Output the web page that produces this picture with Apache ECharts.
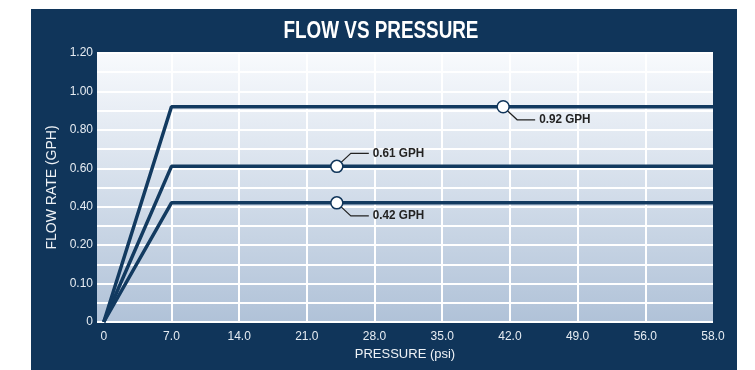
<!DOCTYPE html>
<html><head><meta charset="utf-8">
<script src="https://cdn.jsdelivr.net/npm/echarts@6/dist/echarts.min.js"></script>
<style>html,body{margin:0;padding:0;background:#fff}#c{width:755px;height:370px}</style>
</head><body><div id="c"></div>
<script>
// Tick labels (axes are evenly spaced between labelled ticks)
const xTicks = [0, 7, 14, 21, 28, 35, 42, 49, 56, 58];
const xTickLabels = ['0', '7.0', '14.0', '21.0', '28.0', '35.0', '42.0', '49.0', '56.0', '58.0'];
const yTicks = [0, 0.1, 0.2, 0.4, 0.6, 0.8, 1.0, 1.2];
const yTickLabels = ['0', '0.10', '0.20', '0.40', '0.60', '0.80', '1.00', '1.20'];

// Series: flow rates, reached at 7 psi, held to 58 psi
const seriesNames = ['0.92 GPH', '0.61 GPH', '0.42 GPH'];
const flows = [0.92, 0.61, 0.42];
const pressures = [0, 7, 58];
// Callouts
const calloutPressure = [41.3, 24.1, 24.1];
const calloutDir = [1, -1, 1];

function toIndex(v, ticks) {
  for (let i = 0; i < ticks.length - 1; i++) {
    if (v <= ticks[i + 1]) return i + (v - ticks[i]) / (ticks[i + 1] - ticks[i]);
  }
  return ticks.length - 1;
}
const px = v => toIndex(v, xTicks);
const py = v => toIndex(v, yTicks);

const FONT = "'Liberation Sans Narrow', 'Liberation Sans', sans-serif";
const NAVY = '#10355a';

const lineSeries = flows.map((f, i) => ({
  type: 'line', name: seriesNames[i], symbol: 'none', z: 3,
  lineStyle: {color: '#123a60', width: 3.5},
  data: pressures.map(p => [px(p), py(p === 0 ? 0 : f)])
}));

const callout = {
  type: 'custom', z: 10, silent: true,
  data: flows.map((f, i) => [px(calloutPressure[i]), py(f), calloutDir[i], i]),
  renderItem(params, api) {
    const p = api.coord([api.value(0), api.value(1)]);
    const d = api.value(2);
    const label = seriesNames[api.value(3)];
    return {type: 'group', children: [
      {type: 'polyline', shape: {points: [[p[0], p[1]], [p[0] + 14, p[1] + d * 13], [p[0] + 32, p[1] + d * 13]]},
        style: {stroke: '#222', lineWidth: 1.2, fill: null}},
      {type: 'circle', shape: {cx: p[0], cy: p[1], r: 6},
        style: {fill: '#fff', stroke: NAVY, lineWidth: 1.5}},
      {type: 'text', x: p[0] + 36, y: p[1] + d * 13, scaleX: 0.9,
        style: {text: label, fill: '#222', font: "bold 13px " + FONT, verticalAlign: 'middle', align: 'left'}}
    ]};
  }
};

const chart = echarts.init(document.getElementById('c'));
chart.setOption({
  backgroundColor: '#fff',
  animation: false,
  graphic: [
    {type: 'rect', z: -10, shape: {x: 31, y: 9, width: 706, height: 361}, style: {fill: NAVY}},
    {type: 'text', z: 5, x: 381, y: 32, scaleX: 0.82,
      style: {text: 'FLOW VS PRESSURE', fill: '#fff', font: "bold 23px " + FONT, align: 'center', verticalAlign: 'middle'}}
  ],
  grid: {left: 97, right: 42, top: 53, bottom: 48, show: true, borderWidth: 0,
    backgroundColor: {type: 'linear', x: 0, y: 0, x2: 0, y2: 1,
      colorStops: [{offset: 0, color: '#f8fafd'}, {offset: 1, color: '#b0c2d8'}]}},
  xAxis: {type: 'value', min: -0.1, max: 9,
    name: 'PRESSURE (psi)', nameLocation: 'middle', nameGap: 26,
    nameTextStyle: {color: '#eef2f6', fontSize: 13, fontFamily: FONT},
    axisLine: {show: false},
    axisTick: {show: false, customValues: [1, 2, 3, 4, 5, 6, 7, 8]},
    axisLabel: {customValues: xTicks.map((t, i) => i), formatter: v => xTickLabels[Math.round(v)],
      color: '#e6ecf2', fontSize: 12, fontFamily: FONT, margin: 9},
    splitLine: {show: true, lineStyle: {color: '#fff', width: 2}}},
  yAxis: {type: 'value', min: 0, max: 7, interval: 1,
    name: 'FLOW RATE (GPH)', nameLocation: 'middle', nameGap: 34, nameRotate: 90,
    nameTextStyle: {color: '#eef2f6', fontSize: 14, fontFamily: FONT},
    axisLine: {show: false}, axisTick: {show: false},
    axisLabel: {formatter: v => yTickLabels[Math.round(v)], color: '#e6ecf2', fontSize: 12, fontFamily: FONT, margin: 4},
    splitLine: {show: true, lineStyle: {color: '#fff', width: 2}},
    minorTick: {show: false, splitNumber: 2},
    minorSplitLine: {show: true, lineStyle: {color: '#fff', width: 2}}},
  series: [...lineSeries, callout]
});
</script></body></html>
